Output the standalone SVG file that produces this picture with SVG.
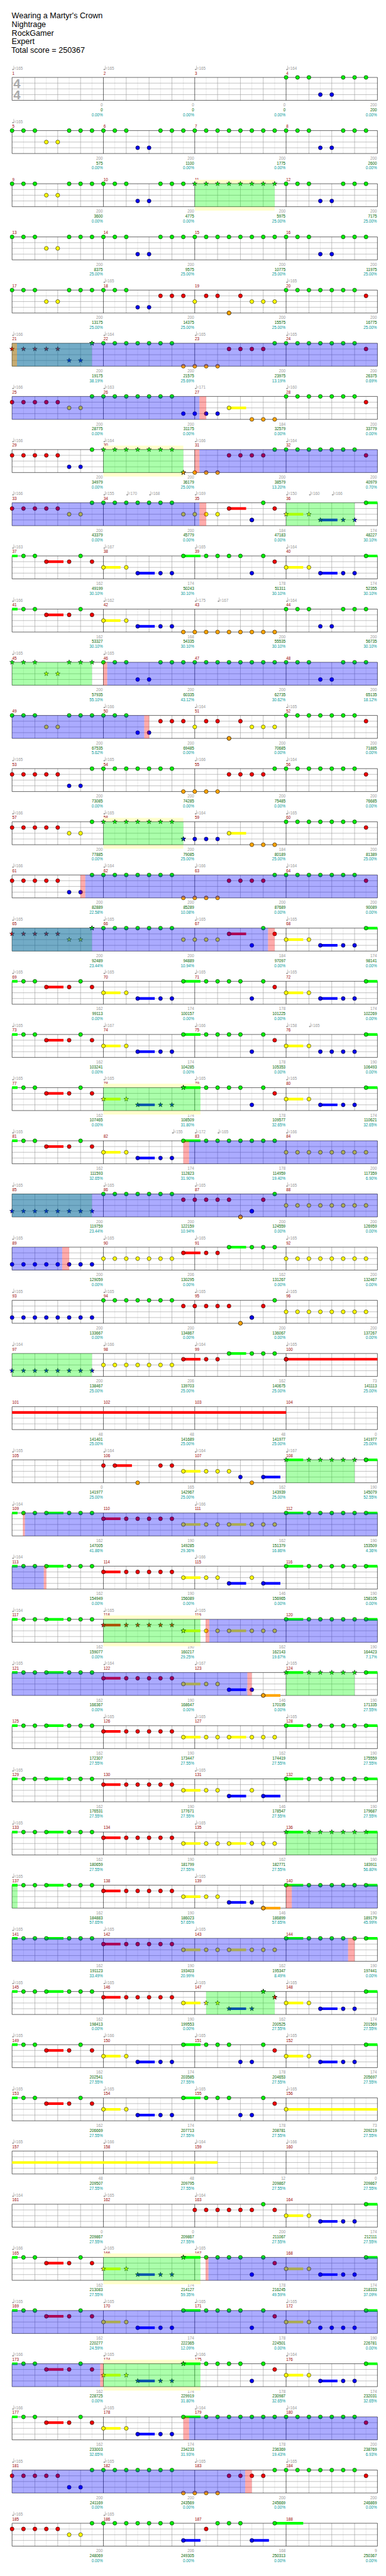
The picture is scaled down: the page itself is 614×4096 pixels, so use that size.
<svg xmlns="http://www.w3.org/2000/svg" width="614" height="4096" viewBox="0 0 614 4096">
<defs>
<style>
text{font-family:"Liberation Sans",Arial,sans-serif;font-size:10.5px}
.hd{font-size:21px;fill:#000}
.ts{font-size:34px;font-weight:bold;fill:#aaa}
.tp{fill:#999}
.mn{fill:#900}
.s1{fill:#999;text-anchor:end}
.s2{fill:#060;text-anchor:end}
.s3{fill:#099;text-anchor:end}
.l1,.l2,.l3{fill:none;vector-effect:non-scaling-stroke;stroke-width:.6}
.l1{stroke:#ddd}.l2{stroke:#999}.l3{stroke:#000}
.G,.R,.Y,.B,.O,.GS,.RS,.YS,.BS,.OS{fill:none;stroke:none}
.G{marker:url(#mG)}.R{marker:url(#mR)}.Y{marker:url(#mY)}.B{marker:url(#mB)}.O{marker:url(#mO)}
.GS{marker:url(#xG)}.RS{marker:url(#xR)}.YS{marker:url(#xY)}.BS{marker:url(#xB)}.OS{marker:url(#xO)}
.zG,.zR,.zY,.zB,.zO{fill:none;stroke-width:.46}
.zG{stroke:#0f0}.zR{stroke:#f00}.zY{stroke:#ff0}.zB{stroke:#00f}.zO{stroke:#ffa500}
.og{fill:#0f0;fill-opacity:.33}.ob{fill:#00f;fill-opacity:.33}.op{fill:#f00;fill-opacity:.33}.oy{fill:#ffc}
.nt{stroke:#000;stroke-width:.9}
</style>
<circle id="c" r="5.2" class="nt"/>
<path id="st" class="nt" d="M0,-6.5L1.53,-2.1 6.18,-2.01 2.47,0.8 3.82,5.26 0,2.6 -3.82,5.26 -2.47,0.8 -6.18,-2.01 -1.53,-2.1Z"/>
<marker id="mG" markerUnits="userSpaceOnUse" markerWidth="1" markerHeight="1" refX=".5" refY=".5" overflow="visible"><use href="#c" fill="#0e0" transform="translate(.5,.5) scale(.033014,.065789)"/></marker>
<marker id="mR" markerUnits="userSpaceOnUse" markerWidth="1" markerHeight="1" refX=".5" refY=".5" overflow="visible"><use href="#c" fill="#e00" transform="translate(.5,.5) scale(.033014,.065789)"/></marker>
<marker id="mY" markerUnits="userSpaceOnUse" markerWidth="1" markerHeight="1" refX=".5" refY=".5" overflow="visible"><use href="#c" fill="#ff0" transform="translate(.5,.5) scale(.033014,.065789)"/></marker>
<marker id="mB" markerUnits="userSpaceOnUse" markerWidth="1" markerHeight="1" refX=".5" refY=".5" overflow="visible"><use href="#c" fill="#00e" transform="translate(.5,.5) scale(.033014,.065789)"/></marker>
<marker id="mO" markerUnits="userSpaceOnUse" markerWidth="1" markerHeight="1" refX=".5" refY=".5" overflow="visible"><use href="#c" fill="#ffa500" transform="translate(.5,.5) scale(.033014,.065789)"/></marker>
<marker id="xG" markerUnits="userSpaceOnUse" markerWidth="1" markerHeight="1" refX=".5" refY=".5" overflow="visible"><use href="#st" fill="#0e0" transform="translate(.5,.5) scale(.033014,.065789)"/></marker>
<marker id="xR" markerUnits="userSpaceOnUse" markerWidth="1" markerHeight="1" refX=".5" refY=".5" overflow="visible"><use href="#st" fill="#e00" transform="translate(.5,.5) scale(.033014,.065789)"/></marker>
<marker id="xY" markerUnits="userSpaceOnUse" markerWidth="1" markerHeight="1" refX=".5" refY=".5" overflow="visible"><use href="#st" fill="#ff0" transform="translate(.5,.5) scale(.033014,.065789)"/></marker>
<marker id="xB" markerUnits="userSpaceOnUse" markerWidth="1" markerHeight="1" refX=".5" refY=".5" overflow="visible"><use href="#st" fill="#00e" transform="translate(.5,.5) scale(.033014,.065789)"/></marker>
<marker id="xO" markerUnits="userSpaceOnUse" markerWidth="1" markerHeight="1" refX=".5" refY=".5" overflow="visible"><use href="#st" fill="#ffa500" transform="translate(.5,.5) scale(.033014,.065789)"/></marker>
<g id="q" fill="#999"><ellipse cx="2.5" cy="-21" rx="2.4" ry="1.7"/><rect x="4.1" y="-31" width="0.9" height="10"/></g>
<g id="q4"><use href="#q" x="32"/><use href="#q" x="274.3"/><use href="#q" x="516.6"/><use href="#q" x="758.9"/></g>
<g id="grid">
<rect width="32" height="4" fill="#fff"/>
<path class="l1" d="M1 0V4M3 0V4M5 0V4M7 0V4M9 0V4M11 0V4M13 0V4M15 0V4M17 0V4M19 0V4M21 0V4M23 0V4M25 0V4M27 0V4M29 0V4M31 0V4"/>
<path class="l2" d="M2 0V4M4 0V4M6 0V4M10 0V4M12 0V4M14 0V4M18 0V4M20 0V4M22 0V4M26 0V4M28 0V4M30 0V4M0 1H32M0 2H32M0 3H32"/>
<path class="l3" d="M8 0V4M16 0V4M24 0V4"/>
<rect class="l3" width="32" height="4"/>
</g>
<g id="nA"><path class="G" d="M0 0H1H2H5H6H7H8H9H10H13H14H15H16H17H18H19H20H21H22H23H24H25H26H29H30H31"/><path class="Y" d="M3 2H4"/><path class="B" d="M11 3H12H27H28"/></g>
<g id="nE"><path class="G" d="M0 0H1H2H5H6H7H8H9H10H24H25H26H27H28H29H30"/><path class="R" d="M13 1H14H15H17H18H20H31"/><path class="Y" d="M3 2H4H16H21H22H23"/><path class="B" d="M11 3H12"/><path class="O" d="M19 4h0"/></g>
<g id="nD"><path class="R" d="M0 1H1H2H3H4H19H20H21H22H31"/><path class="B" d="M5 3H6"/><path class="G" d="M7 0H8H9H10H11H12H13H14H23H24H25H26H27H28H29H30"/><path class="O" d="M15 4H16H17H18"/></g>
<g id="zH"><path class="zG" d="M0 0H.48M15 0H16.5M31 0H32"/><path class="zR" d="M3 1H4.5"/><path class="zY" d="M8 2H9.5M24 2H25.5"/></g>
<g id="nH"><use href="#zH"/><path class="zB" d="M11 3H12.5M27 3H28.5"/><path class="G" d="M1 0H2H6H15H17H18H19H20H22H31"/><path class="R" d="M3 1H5H7H23"/><path class="Y" d="M8 2H10H24H26"/><path class="B" d="M11 3H13H14H21H27H29H30"/></g>
<g id="nH2"><use href="#zH"/><path class="zB" d="M11 3H12.5"/><path class="G" d="M1 0H2H6H15H17H18H19H20H22H31"/><path class="R" d="M3 1H5H7H23"/><path class="Y" d="M8 2H10H24H26"/><path class="B" d="M11 3H13H14H21H27H28H29H30"/></g>
<g id="nHs"><use href="#zH"/><path class="zB" d="M11 3H12.5M27 3H28.5"/><path class="G" d="M1 0H2H6H17H18H19H20H22H31"/><path class="GS" d="M15 0h0"/><path class="R" d="M3 1H5H7H23"/><path class="YS" d="M8 2H10"/><path class="Y" d="M24 2H26"/><path class="BS" d="M11 3H13H14"/><path class="B" d="M21 3H27H29H30"/></g>
<g id="zK"><path class="zG" d="M0 0H.48M3 0H4.5M24 0H25.5M31 0H32"/><path class="zR" d="M8 1H9.5"/></g>
<g id="nK1"><use href="#zK"/><path class="zY" d="M15 2H16.5M19 2H20.5"/><path class="G" d="M1 0H2H3H5H6H7H24H26H27H28H29H30H31"/><path class="R" d="M8 1H10H11H12H13H14"/><path class="Y" d="M15 2H17H18H19H21H22H23"/></g>
<g id="nK2"><use href="#zK"/><path class="zY" d="M15 2H16.5"/><path class="zB" d="M19 3H20.5M22 3H23.5"/><path class="G" d="M1 0H2H3H5H6H7H24H26H27H28H29H30H31"/><path class="R" d="M8 1H10H11H12H13H14"/><path class="Y" d="M15 2H17H18H21"/><path class="B" d="M19 3H22"/></g>
<g id="nF"><path class="G" d="M8 0H9H10H11H12H13H14H23"/><path class="R" d="M15 1H16H17H18H19H22"/><path class="O" d="M20 4h0"/><path class="B" d="M21 3h0"/><path class="Y" d="M24 2H25H26H27H28H29H30H31"/></g>
<g id="nI"><path class="zR" d="M15 1H16.5"/><path class="zG" d="M19 0H20.5"/><path class="Y" d="M8 2H9H10H11H12H13H14"/><path class="R" d="M15 1H17H18"/><path class="G" d="M19 0H21H22H23"/></g>
</defs>
<rect width="614" height="4096" fill="#fff"/>
<g transform="scale(0.5996)">
<g id="header">
<text class="hd" x="31" y="49">Wearing a Martyr's Crown</text>
<text class="hd" x="31" y="72">Nightrage</text>
<text class="hd" x="31" y="95">RockGamer</text>
<text class="hd" x="31" y="117.5">Expert</text>
<text class="hd" x="30" y="140.5">Total score = 250367</text>
</g>

<g id="r1" transform="translate(0,205.3)">
<use href="#q4"/><text class="tp" y="-20"><tspan x="37">=165</tspan><tspan x="279.3">=165</tspan><tspan x="521.6">=165</tspan><tspan x="763.9">=164</tspan></text>
<text class="mn" y="-7.6"><tspan x="32.5">1</tspan><tspan x="274.8">2</tspan><tspan x="517.1">3</tspan><tspan x="759.4">4</tspan></text>
<text class="s1" y="77"><tspan x="272.8">0</tspan><tspan x="515.1">0</tspan><tspan x="757.4">0</tspan><tspan x="999.8">200</tspan></text>
<text class="s2" y="90"><tspan x="272.8">0</tspan><tspan x="515.1">0</tspan><tspan x="757.4">0</tspan><tspan x="999.8">200</tspan></text>
<text class="s3" y="103"><tspan x="272.8">0.00%</tspan><tspan x="515.1">0.00%</tspan><tspan x="757.4">0.00%</tspan><tspan x="999.8">0.00%</tspan></text>
<g transform="translate(32,0) scale(30.29,15.2)"><use href="#grid"/><path class="G" d="M24 0H25H26H29H30H31"/><path class="B" d="M27 3H28"/></g>
<text class="ts" x="35.5" y="28">4</text><text class="ts" x="35.5" y="58">4</text>
</g>

<g id="r2" transform="translate(0,346.3)">
<use href="#q" x="32"/><text class="tp" y="-20"><tspan x="37">=165</tspan></text>
<text class="mn" y="-7.6"><tspan x="32.5">5</tspan><tspan x="274.8">6</tspan><tspan x="517.1">7</tspan><tspan x="759.4">8</tspan></text>
<text class="s1" y="77"><tspan x="272.8">200</tspan><tspan x="515.1">200</tspan><tspan x="757.4">200</tspan><tspan x="999.8">200</tspan></text>
<text class="s2" y="90"><tspan x="272.8">575</tspan><tspan x="515.1">1100</tspan><tspan x="757.4">1775</tspan><tspan x="999.8">2600</tspan></text>
<text class="s3" y="103"><tspan x="272.8">0.00%</tspan><tspan x="515.1">0.00%</tspan><tspan x="757.4">0.00%</tspan><tspan x="999.8">0.00%</tspan></text>
<g transform="translate(32,0) scale(30.29,15.2)"><use href="#grid"/><use href="#nA"/></g>
</g>

<g id="r3" transform="translate(0,487.3)">
<text class="mn" y="-7.6"><tspan x="32.5">9</tspan><tspan x="274.8">10</tspan><tspan x="517.1">11</tspan><tspan x="759.4">12</tspan></text>
<text class="s1" y="77"><tspan x="272.8">200</tspan><tspan x="515.1">200</tspan><tspan x="757.4">200</tspan><tspan x="999.8">200</tspan></text>
<text class="s2" y="90"><tspan x="272.8">3600</tspan><tspan x="515.1">4775</tspan><tspan x="757.4">5975</tspan><tspan x="999.8">7175</tspan></text>
<text class="s3" y="103"><tspan x="272.8">0.00%</tspan><tspan x="515.1">0.00%</tspan><tspan x="757.4">25.00%</tspan><tspan x="999.8">25.00%</tspan></text>
<g transform="translate(32,0) scale(30.29,15.2)"><rect class="oy" x="16" y="-.69" width="7" height="5.38"/><use href="#grid"/><path class="G" d="M0 0H1H2H5H6H7H8H9H10H13H14H15H24H25H26H29H30H31"/><path class="GS" d="M16 0H17H18H19H20H21H22H23"/><path class="Y" d="M3 2H4"/><path class="B" d="M11 3H12H27H28"/><rect class="og" x="16" width="7" height="4"/></g>
</g>

<g id="r4" transform="translate(0,628.3)">
<text class="mn" y="-7.6"><tspan x="32.5">13</tspan><tspan x="274.8">14</tspan><tspan x="517.1">15</tspan><tspan x="759.4">16</tspan></text>
<text class="s1" y="77"><tspan x="272.8">200</tspan><tspan x="515.1">200</tspan><tspan x="757.4">200</tspan><tspan x="999.8">200</tspan></text>
<text class="s2" y="90"><tspan x="272.8">8375</tspan><tspan x="515.1">9575</tspan><tspan x="757.4">10775</tspan><tspan x="999.8">11975</tspan></text>
<text class="s3" y="103"><tspan x="272.8">25.00%</tspan><tspan x="515.1">25.00%</tspan><tspan x="757.4">25.00%</tspan><tspan x="999.8">25.00%</tspan></text>
<g transform="translate(32,0) scale(30.29,15.2)"><use href="#grid"/><use href="#nA"/></g>
</g>

<g id="r5" transform="translate(0,769.3)">
<use href="#q" x="274.3"/><use href="#q" x="758.9"/><text class="tp" y="-20"><tspan x="279.3">=165</tspan><tspan x="763.9">=165</tspan></text>
<text class="mn" y="-7.6"><tspan x="32.5">17</tspan><tspan x="274.8">18</tspan><tspan x="517.1">19</tspan><tspan x="759.4">20</tspan></text>
<text class="s1" y="77"><tspan x="272.8">200</tspan><tspan x="515.1">200</tspan><tspan x="757.4">200</tspan><tspan x="999.8">200</tspan></text>
<text class="s2" y="90"><tspan x="272.8">13175</tspan><tspan x="515.1">14375</tspan><tspan x="757.4">15575</tspan><tspan x="999.8">16775</tspan></text>
<text class="s3" y="103"><tspan x="272.8">25.00%</tspan><tspan x="515.1">25.00%</tspan><tspan x="757.4">25.00%</tspan><tspan x="999.8">25.00%</tspan></text>
<g transform="translate(32,0) scale(30.29,15.2)"><use href="#grid"/><use href="#nE"/></g>
</g>

<g id="r6" transform="translate(0,910.3)">
<use href="#q4"/><text class="tp" y="-20"><tspan x="37">=166</tspan><tspan x="279.3">=164</tspan><tspan x="521.6">=165</tspan><tspan x="763.9">=165</tspan></text>
<text class="mn" y="-7.6"><tspan x="32.5">21</tspan><tspan x="274.8">22</tspan><tspan x="517.1">23</tspan><tspan x="759.4">24</tspan></text>
<text class="s1" y="77"><tspan x="272.8">200</tspan><tspan x="515.1">200</tspan><tspan x="757.4">200</tspan><tspan x="999.8">200</tspan></text>
<text class="s2" y="90"><tspan x="272.8">19175</tspan><tspan x="515.1">21575</tspan><tspan x="757.4">23975</tspan><tspan x="999.8">26375</tspan></text>
<text class="s3" y="103"><tspan x="272.8">38.19%</tspan><tspan x="515.1">25.69%</tspan><tspan x="757.4">13.19%</tspan><tspan x="999.8">0.69%</tspan></text>
<g transform="translate(32,0) scale(30.29,15.2)"><use href="#grid"/><path class="RS" d="M0 1H1H2H3H4"/><path class="BS" d="M5 3H6"/><path class="GS" d="M7 0h0"/><path class="G" d="M8 0H9H10H11H12H13H14H23H24H25H26H27H28H29H30"/><path class="R" d="M19 1H20H21H22H31"/><path class="O" d="M15 4H16H17H18"/><rect class="og" width="7" height="4"/><rect class="ob" x=".43" width="31.57" height="4"/><rect class="op" width=".43" height="4"/></g>
</g>

<g id="r7" transform="translate(0,1051.3)">
<use href="#q4"/><text class="tp" y="-20"><tspan x="37">=166</tspan><tspan x="279.3">=163</tspan><tspan x="521.6">=171</tspan><tspan x="763.9">=160</tspan></text>
<text class="mn" y="-7.6"><tspan x="32.5">25</tspan><tspan x="274.8">26</tspan><tspan x="517.1">27</tspan><tspan x="759.4">28</tspan></text>
<text class="s1" y="77"><tspan x="272.8">200</tspan><tspan x="515.1">200</tspan><tspan x="757.4">184</tspan><tspan x="999.8">200</tspan></text>
<text class="s2" y="90"><tspan x="272.8">28775</tspan><tspan x="515.1">31175</tspan><tspan x="757.4">32579</tspan><tspan x="999.8">33779</tspan></text>
<text class="s3" y="103"><tspan x="272.8">0.00%</tspan><tspan x="515.1">0.00%</tspan><tspan x="757.4">0.00%</tspan><tspan x="999.8">0.00%</tspan></text>
<g transform="translate(32,0) scale(30.29,15.2)"><use href="#grid"/><path class="zY" d="M19 2H20.5"/><path class="R" d="M0 1H1H2H3H4H31"/><path class="Y" d="M5 2H6H19"/><path class="G" d="M7 0H8H9H10H11H12H13H14H24H25H26H27H28H29H30"/><path class="B" d="M15 3H16H17H18"/><path class="O" d="M21 4H22H23"/><rect class="ob" width="16.41" height="4"/><rect class="op" x="16.41" width=".59" height="4"/></g>
</g>

<g id="r8" transform="translate(0,1192.3)">
<use href="#q4"/><text class="tp" y="-20"><tspan x="37">=166</tspan><tspan x="279.3">=164</tspan><tspan x="521.6">=166</tspan><tspan x="763.9">=164</tspan></text>
<text class="mn" y="-7.6"><tspan x="32.5">29</tspan><tspan x="274.8">30</tspan><tspan x="517.1">31</tspan><tspan x="759.4">32</tspan></text>
<text class="s1" y="77"><tspan x="272.8">200</tspan><tspan x="515.1">200</tspan><tspan x="757.4">200</tspan><tspan x="999.8">200</tspan></text>
<text class="s2" y="90"><tspan x="272.8">34979</tspan><tspan x="515.1">36179</tspan><tspan x="757.4">38579</tspan><tspan x="999.8">40979</tspan></text>
<text class="s3" y="103"><tspan x="272.8">0.00%</tspan><tspan x="515.1">25.00%</tspan><tspan x="757.4">13.20%</tspan><tspan x="999.8">0.70%</tspan></text>
<g transform="translate(32,0) scale(30.29,15.2)"><rect class="oy" x="8" y="-.69" width="7" height="5.38"/><use href="#grid"/><path class="R" d="M0 1H1H2H3H4H19H20H21H22H31"/><path class="B" d="M5 3H6"/><path class="G" d="M7 0H23H24H25H26H27H28H29H30"/><path class="GS" d="M8 0H9H10H11H12H13H14"/><path class="OS" d="M15 4h0"/><path class="O" d="M16 4H17H18"/><rect class="og" x="8" width="7" height="4"/><rect class="ob" x="16.41" width="15.59" height="4"/><rect class="op" x="16" width=".41" height="4"/></g>
</g>

<g id="r9" transform="translate(0,1333.3)">
<use href="#q" x="32"/><use href="#q" x="274.3"/><use href="#q" x="334.9"/><use href="#q" x="395.5"/><use href="#q" x="516.6"/><use href="#q" x="758.9"/><use href="#q" x="819.5"/><use href="#q" x="880.1"/>
<text class="tp" y="-20"><tspan x="37">=166</tspan><tspan x="279.3">=155</tspan><tspan x="339.9">=170</tspan><tspan x="400.5">=168</tspan><tspan x="521.6">=169</tspan><tspan x="763.9">=150</tspan><tspan x="824.5">=160</tspan><tspan x="885.1">=166</tspan></text>
<text class="mn" y="-7.6"><tspan x="32.5">33</tspan><tspan x="274.8">34</tspan><tspan x="517.1">35</tspan><tspan x="759.4">36</tspan></text>
<text class="s1" y="77"><tspan x="272.8">200</tspan><tspan x="515.1">200</tspan><tspan x="757.4">184</tspan><tspan x="999.8">174</tspan></text>
<text class="s2" y="90"><tspan x="272.8">43379</tspan><tspan x="515.1">45779</tspan><tspan x="757.4">47183</tspan><tspan x="999.8">48227</tspan></text>
<text class="s3" y="103"><tspan x="272.8">0.00%</tspan><tspan x="515.1">0.00%</tspan><tspan x="757.4">0.00%</tspan><tspan x="999.8">30.10%</tspan></text>
<g transform="translate(32,0) scale(30.29,15.2)"><use href="#grid"/><path class="zR" d="M19 1H20.5"/><path class="zY" d="M24 2H25.5"/><path class="zB" d="M27 3H28.5"/><path class="zG" d="M31 0H32"/><path class="R" d="M0 1H1H2H3H4H19H23"/><path class="Y" d="M5 2H6H15H16H17H18"/><path class="G" d="M7 0H8H9H10H11H12H13H14H22H31"/><path class="B" d="M21 3h0"/><path class="YS" d="M24 2H26"/><path class="BS" d="M27 3H29H30"/><rect class="og" x="24" width="6" height="4"/><rect class="ob" width="16.41" height="4"/><rect class="op" x="16.41" width=".59" height="4"/></g>
</g>

<g id="r10" transform="translate(0,1474.3)">
<use href="#q4"/><text class="tp" y="-20"><tspan x="37">=163</tspan><tspan x="279.3">=167</tspan><tspan x="521.6">=165</tspan><tspan x="763.9">=164</tspan></text>
<text class="mn" y="-7.6"><tspan x="32.5">37</tspan><tspan x="274.8">38</tspan><tspan x="517.1">39</tspan><tspan x="759.4">40</tspan></text>
<text class="s1" y="77"><tspan x="272.8">162</tspan><tspan x="515.1">174</tspan><tspan x="757.4">178</tspan><tspan x="999.8">174</tspan></text>
<text class="s2" y="90"><tspan x="272.8">49199</tspan><tspan x="515.1">50243</tspan><tspan x="757.4">51311</tspan><tspan x="999.8">52355</tspan></text>
<text class="s3" y="103"><tspan x="272.8">30.10%</tspan><tspan x="515.1">30.10%</tspan><tspan x="757.4">30.10%</tspan><tspan x="999.8">30.10%</tspan></text>
<g transform="translate(32,0) scale(30.29,15.2)"><use href="#grid"/><use href="#nH"/></g>
</g>

<g id="r11" transform="translate(0,1615.3)">
<use href="#q" x="32"/><use href="#q" x="274.3"/><use href="#q" x="516.6"/><use href="#q" x="577.2"/><use href="#q" x="758.9"/>
<text class="tp" y="-20"><tspan x="37">=166</tspan><tspan x="279.3">=162</tspan><tspan x="521.6">=175</tspan><tspan x="582.2">=167</tspan><tspan x="763.9">=164</tspan></text>
<text class="mn" y="-7.6"><tspan x="32.5">41</tspan><tspan x="274.8">42</tspan><tspan x="517.1">43</tspan><tspan x="759.4">44</tspan></text>
<text class="s1" y="77"><tspan x="272.8">162</tspan><tspan x="515.1">168</tspan><tspan x="757.4">200</tspan><tspan x="999.8">200</tspan></text>
<text class="s2" y="90"><tspan x="272.8">53327</tspan><tspan x="515.1">54335</tspan><tspan x="757.4">55535</tspan><tspan x="999.8">56735</tspan></text>
<text class="s3" y="103"><tspan x="272.8">30.10%</tspan><tspan x="515.1">30.10%</tspan><tspan x="757.4">30.10%</tspan><tspan x="999.8">30.10%</tspan></text>
<g transform="translate(32,0) scale(30.29,15.2)"><use href="#grid"/><path class="zG" d="M0 0H.48"/><path class="zR" d="M3 1H4.5"/><path class="zY" d="M8 2H9.5"/><path class="zB" d="M11 3H12.5"/><path class="G" d="M1 0H2H6H24H25H26H29H30H31"/><path class="R" d="M3 1H5H7"/><path class="Y" d="M8 2H10"/><path class="B" d="M11 3H13H14H27H28"/><path class="O" d="M15 4H16H17H18H19H20H21H22H23"/></g>
</g>

<g id="r12" transform="translate(0,1756.3)">
<use href="#q" x="32"/><use href="#q" x="274.3"/><text class="tp" y="-20"><tspan x="37">=165</tspan><tspan x="279.3">=165</tspan></text>
<text class="mn" y="-7.6"><tspan x="32.5">45</tspan><tspan x="274.8">46</tspan><tspan x="517.1">47</tspan><tspan x="759.4">48</tspan></text>
<text class="s1" y="77"><tspan x="272.8">200</tspan><tspan x="515.1">200</tspan><tspan x="757.4">200</tspan><tspan x="999.8">200</tspan></text>
<text class="s2" y="90"><tspan x="272.8">57935</tspan><tspan x="515.1">60335</tspan><tspan x="757.4">62735</tspan><tspan x="999.8">65135</tspan></text>
<text class="s3" y="103"><tspan x="272.8">55.10%</tspan><tspan x="515.1">43.12%</tspan><tspan x="757.4">30.62%</tspan><tspan x="999.8">18.12%</tspan></text>
<g transform="translate(32,0) scale(30.29,15.2)"><use href="#grid"/><path class="GS" d="M0 0H1H2H5H6H7"/><path class="YS" d="M3 2H4"/><path class="G" d="M8 0H9H10H13H14H15H16H17H18H19H20H21H22H23H24H25H26H29H30H31"/><path class="B" d="M11 3H12H27H28"/><rect class="og" width="7" height="4"/><rect class="ob" x="8.33" width="23.67" height="4"/><rect class="op" x="8" width=".33" height="4"/></g>
</g>

<g id="r13" transform="translate(0,1897.3)">
<use href="#q" x="274.3"/><use href="#q" x="516.6"/><use href="#q" x="758.9"/><text class="tp" y="-20"><tspan x="279.3">=166</tspan><tspan x="521.6">=164</tspan><tspan x="763.9">=165</tspan></text>
<text class="mn" y="-7.6"><tspan x="32.5">49</tspan><tspan x="274.8">50</tspan><tspan x="517.1">51</tspan><tspan x="759.4">52</tspan></text>
<text class="s1" y="77"><tspan x="272.8">200</tspan><tspan x="515.1">200</tspan><tspan x="757.4">200</tspan><tspan x="999.8">200</tspan></text>
<text class="s2" y="90"><tspan x="272.8">67535</tspan><tspan x="515.1">69485</tspan><tspan x="757.4">70685</tspan><tspan x="999.8">71885</tspan></text>
<text class="s3" y="103"><tspan x="272.8">5.62%</tspan><tspan x="515.1">0.00%</tspan><tspan x="757.4">0.00%</tspan><tspan x="999.8">0.00%</tspan></text>
<g transform="translate(32,0) scale(30.29,15.2)"><use href="#grid"/><use href="#nE"/><rect class="ob" width="11.58" height="4"/><rect class="op" x="11.58" width=".42" height="4"/></g>
</g>

<g id="r14" transform="translate(0,2038.3)">
<use href="#q4"/><text class="tp" y="-20"><tspan x="37">=165</tspan><tspan x="279.3">=165</tspan><tspan x="521.6">=166</tspan><tspan x="763.9">=164</tspan></text>
<text class="mn" y="-7.6"><tspan x="32.5">53</tspan><tspan x="274.8">54</tspan><tspan x="517.1">55</tspan><tspan x="759.4">56</tspan></text>
<text class="s1" y="77"><tspan x="272.8">200</tspan><tspan x="515.1">200</tspan><tspan x="757.4">200</tspan><tspan x="999.8">200</tspan></text>
<text class="s2" y="90"><tspan x="272.8">73085</tspan><tspan x="515.1">74285</tspan><tspan x="757.4">75485</tspan><tspan x="999.8">76685</tspan></text>
<text class="s3" y="103"><tspan x="272.8">0.00%</tspan><tspan x="515.1">0.00%</tspan><tspan x="757.4">0.00%</tspan><tspan x="999.8">0.00%</tspan></text>
<g transform="translate(32,0) scale(30.29,15.2)"><use href="#grid"/><use href="#nD"/></g>
</g>

<g id="r15" transform="translate(0,2179.3)">
<use href="#q4"/><text class="tp" y="-20"><tspan x="37">=166</tspan><tspan x="279.3">=165</tspan><tspan x="521.6">=164</tspan><tspan x="763.9">=165</tspan></text>
<text class="mn" y="-7.6"><tspan x="32.5">57</tspan><tspan x="274.8">58</tspan><tspan x="517.1">59</tspan><tspan x="759.4">60</tspan></text>
<text class="s1" y="77"><tspan x="272.8">200</tspan><tspan x="515.1">200</tspan><tspan x="757.4">184</tspan><tspan x="999.8">200</tspan></text>
<text class="s2" y="90"><tspan x="272.8">77885</tspan><tspan x="515.1">79085</tspan><tspan x="757.4">80189</tspan><tspan x="999.8">81389</tspan></text>
<text class="s3" y="103"><tspan x="272.8">0.00%</tspan><tspan x="515.1">25.00%</tspan><tspan x="757.4">25.00%</tspan><tspan x="999.8">25.00%</tspan></text>
<g transform="translate(32,0) scale(30.29,15.2)"><rect class="oy" x="8" y="-.69" width="7" height="5.38"/><use href="#grid"/><path class="zY" d="M19 2H20.5"/><path class="R" d="M0 1H1H2H3H4H31"/><path class="Y" d="M5 2H6H19"/><path class="G" d="M7 0H24H25H26H27H28H29H30"/><path class="GS" d="M8 0H9H10H11H12H13H14"/><path class="BS" d="M15 3h0"/><path class="B" d="M16 3H17H18"/><path class="O" d="M21 4H22H23"/><rect class="og" x="8" width="7" height="4"/></g>
</g>

<g id="r16" transform="translate(0,2320.3)">
<use href="#q4"/><text class="tp" y="-20"><tspan x="37">=166</tspan><tspan x="279.3">=164</tspan><tspan x="521.6">=166</tspan><tspan x="763.9">=164</tspan></text>
<text class="mn" y="-7.6"><tspan x="32.5">61</tspan><tspan x="274.8">62</tspan><tspan x="517.1">63</tspan><tspan x="759.4">64</tspan></text>
<text class="s1" y="77"><tspan x="272.8">200</tspan><tspan x="515.1">200</tspan><tspan x="757.4">200</tspan><tspan x="999.8">200</tspan></text>
<text class="s2" y="90"><tspan x="272.8">82889</tspan><tspan x="515.1">85289</tspan><tspan x="757.4">87689</tspan><tspan x="999.8">90089</tspan></text>
<text class="s3" y="103"><tspan x="272.8">22.58%</tspan><tspan x="515.1">10.08%</tspan><tspan x="757.4">0.00%</tspan><tspan x="999.8">0.00%</tspan></text>
<g transform="translate(32,0) scale(30.29,15.2)"><use href="#grid"/><use href="#nD"/><rect class="ob" x="6.41" width="25.59" height="4"/><rect class="op" x="6" width=".41" height="4"/></g>
</g>

<g id="r17" transform="translate(0,2461.3)">
<use href="#q4"/><text class="tp" y="-20"><tspan x="37">=165</tspan><tspan x="279.3">=165</tspan><tspan x="521.6">=165</tspan><tspan x="763.9">=165</tspan></text>
<text class="mn" y="-7.6"><tspan x="32.5">65</tspan><tspan x="274.8">66</tspan><tspan x="517.1">67</tspan><tspan x="759.4">68</tspan></text>
<text class="s1" y="77"><tspan x="272.8">200</tspan><tspan x="515.1">200</tspan><tspan x="757.4">184</tspan><tspan x="999.8">174</tspan></text>
<text class="s2" y="90"><tspan x="272.8">92489</tspan><tspan x="515.1">94889</tspan><tspan x="757.4">97097</tspan><tspan x="999.8">98141</tspan></text>
<text class="s3" y="103"><tspan x="272.8">23.44%</tspan><tspan x="515.1">10.94%</tspan><tspan x="757.4">0.00%</tspan><tspan x="999.8">0.00%</tspan></text>
<g transform="translate(32,0) scale(30.29,15.2)"><use href="#grid"/><path class="zR" d="M19 1H20.5"/><path class="zY" d="M24 2H25.5"/><path class="zB" d="M27 3H28.5"/><path class="zG" d="M31 0H32"/><path class="RS" d="M0 1H1H2H3H4"/><path class="YS" d="M5 2H6"/><path class="GS" d="M7 0h0"/><path class="G" d="M8 0H9H10H11H12H13H14H22H31"/><path class="Y" d="M15 2H16H17H18H24H26"/><path class="R" d="M19 1H23"/><path class="B" d="M21 3H27H29H30"/><rect class="og" width="7" height="4"/><rect class="ob" width="22.42" height="4"/><rect class="op" x="22.42" width=".58" height="4"/></g>
</g>

<g id="r18" transform="translate(0,2602.3)">
<use href="#q4"/><text class="tp" y="-20"><tspan x="37">=165</tspan><tspan x="279.3">=165</tspan><tspan x="521.6">=165</tspan><tspan x="763.9">=165</tspan></text>
<text class="mn" y="-7.6"><tspan x="32.5">69</tspan><tspan x="274.8">70</tspan><tspan x="517.1">71</tspan><tspan x="759.4">72</tspan></text>
<text class="s1" y="77"><tspan x="272.8">162</tspan><tspan x="515.1">174</tspan><tspan x="757.4">178</tspan><tspan x="999.8">174</tspan></text>
<text class="s2" y="90"><tspan x="272.8">99113</tspan><tspan x="515.1">100157</tspan><tspan x="757.4">101225</tspan><tspan x="999.8">102269</tspan></text>
<text class="s3" y="103"><tspan x="272.8">0.00%</tspan><tspan x="515.1">0.00%</tspan><tspan x="757.4">0.00%</tspan><tspan x="999.8">0.00%</tspan></text>
<g transform="translate(32,0) scale(30.29,15.2)"><use href="#grid"/><use href="#nH"/></g>
</g>

<g id="r19" transform="translate(0,2743.3)">
<use href="#q4"/><use href="#q" x="819.5"/><text class="tp" y="-20"><tspan x="37">=165</tspan><tspan x="279.3">=167</tspan><tspan x="521.6">=166</tspan><tspan x="763.9">=158</tspan><tspan x="824.5">=165</tspan></text>
<text class="mn" y="-7.6"><tspan x="32.5">73</tspan><tspan x="274.8">74</tspan><tspan x="517.1">75</tspan><tspan x="759.4">76</tspan></text>
<text class="s1" y="77"><tspan x="272.8">162</tspan><tspan x="515.1">174</tspan><tspan x="757.4">178</tspan><tspan x="999.8">190</tspan></text>
<text class="s2" y="90"><tspan x="272.8">103241</tspan><tspan x="515.1">104285</tspan><tspan x="757.4">105353</tspan><tspan x="999.8">106493</tspan></text>
<text class="s3" y="103"><tspan x="272.8">0.00%</tspan><tspan x="515.1">0.00%</tspan><tspan x="757.4">0.00%</tspan><tspan x="999.8">0.00%</tspan></text>
<g transform="translate(32,0) scale(30.29,15.2)"><use href="#grid"/><use href="#nH2"/></g>
</g>

<g id="r20" transform="translate(0,2884.3)">
<use href="#q4"/><text class="tp" y="-20"><tspan x="37">=165</tspan><tspan x="279.3">=165</tspan><tspan x="521.6">=165</tspan><tspan x="763.9">=165</tspan></text>
<text class="mn" y="-7.6"><tspan x="32.5">77</tspan><tspan x="274.8">78</tspan><tspan x="517.1">79</tspan><tspan x="759.4">80</tspan></text>
<text class="s1" y="77"><tspan x="272.8">162</tspan><tspan x="515.1">174</tspan><tspan x="757.4">178</tspan><tspan x="999.8">174</tspan></text>
<text class="s2" y="90"><tspan x="272.8">107465</tspan><tspan x="515.1">108509</tspan><tspan x="757.4">109577</tspan><tspan x="999.8">110621</tspan></text>
<text class="s3" y="103"><tspan x="272.8">0.00%</tspan><tspan x="515.1">31.80%</tspan><tspan x="757.4">32.65%</tspan><tspan x="999.8">32.65%</tspan></text>
<g transform="translate(32,0) scale(30.29,15.2)"><rect class="oy" x="8" y="-.69" width="8.5" height="5.38"/><use href="#grid"/><use href="#nHs"/><rect class="og" x="8" width="8.5" height="4"/></g>
</g>

<g id="r21" transform="translate(0,3025.3)">
<use href="#q" x="32"/><use href="#q" x="456.1"/><use href="#q" x="516.6"/><use href="#q" x="577.2"/><use href="#q" x="758.9"/>
<text class="tp" y="-20"><tspan x="37">=165</tspan><tspan x="461.1">=155</tspan><tspan x="521.6">=172</tspan><tspan x="582.2">=165</tspan><tspan x="763.9">=166</tspan></text>
<text class="mn" y="-7.6"><tspan x="32.5">81</tspan><tspan x="274.8">82</tspan><tspan x="517.1">83</tspan><tspan x="759.4">84</tspan></text>
<text class="s1" y="77"><tspan x="272.8">162</tspan><tspan x="515.1">174</tspan><tspan x="757.4">178</tspan><tspan x="999.8">200</tspan></text>
<text class="s2" y="90"><tspan x="272.8">111593</tspan><tspan x="515.1">112823</tspan><tspan x="757.4">114959</tspan><tspan x="999.8">117359</tspan></text>
<text class="s3" y="103"><tspan x="272.8">32.65%</tspan><tspan x="515.1">31.90%</tspan><tspan x="757.4">19.40%</tspan><tspan x="999.8">6.90%</tspan></text>
<g transform="translate(32,0) scale(30.29,15.2)"><use href="#grid"/><path class="zG" d="M0 0H.48M15 0H16.5"/><path class="zR" d="M3 1H4.5"/><path class="zY" d="M8 2H9.5"/><path class="zB" d="M11 3H12.5"/><path class="G" d="M1 0H2H6H15H17H18H19H20H21H22H23"/><path class="R" d="M3 1H5H7"/><path class="Y" d="M8 2H10H24H25H26H27H28H29H30H31"/><path class="B" d="M11 3H13H14"/><rect class="ob" x="15.5" width="16.5" height="4"/><rect class="op" x="15" width=".5" height="4"/></g>
</g>

<g id="r22" transform="translate(0,3166.3)">
<use href="#q4"/><text class="tp" y="-20"><tspan x="37">=165</tspan><tspan x="279.3">=165</tspan><tspan x="521.6">=165</tspan><tspan x="763.9">=165</tspan></text>
<text class="mn" y="-7.6"><tspan x="32.5">85</tspan><tspan x="274.8">86</tspan><tspan x="517.1">87</tspan><tspan x="759.4">88</tspan></text>
<text class="s1" y="77"><tspan x="272.8">200</tspan><tspan x="515.1">200</tspan><tspan x="757.4">200</tspan><tspan x="999.8">200</tspan></text>
<text class="s2" y="90"><tspan x="272.8">119759</tspan><tspan x="515.1">122159</tspan><tspan x="757.4">124559</tspan><tspan x="999.8">126959</tspan></text>
<text class="s3" y="103"><tspan x="272.8">23.44%</tspan><tspan x="515.1">10.94%</tspan><tspan x="757.4">0.00%</tspan><tspan x="999.8">0.00%</tspan></text>
<g transform="translate(32,0) scale(30.29,15.2)"><use href="#grid"/><path class="BS" d="M0 3H1H2H3H4H5H6H7"/><use href="#nF"/><rect class="og" width="7" height="4"/><rect class="ob" width="32" height="4"/></g>
</g>

<g id="r23" transform="translate(0,3307.3)">
<use href="#q4"/><text class="tp" y="-20"><tspan x="37">=165</tspan><tspan x="279.3">=165</tspan><tspan x="521.6">=165</tspan><tspan x="763.9">=165</tspan></text>
<text class="mn" y="-7.6"><tspan x="32.5">89</tspan><tspan x="274.8">90</tspan><tspan x="517.1">91</tspan><tspan x="759.4">92</tspan></text>
<text class="s1" y="77"><tspan x="272.8">200</tspan><tspan x="515.1">206</tspan><tspan x="757.4">162</tspan><tspan x="999.8">200</tspan></text>
<text class="s2" y="90"><tspan x="272.8">129059</tspan><tspan x="515.1">130295</tspan><tspan x="757.4">131267</tspan><tspan x="999.8">132467</tspan></text>
<text class="s3" y="103"><tspan x="272.8">0.00%</tspan><tspan x="515.1">0.00%</tspan><tspan x="757.4">0.00%</tspan><tspan x="999.8">0.00%</tspan></text>
<g transform="translate(32,0) scale(30.29,15.2)"><use href="#grid"/><path class="B" d="M0 3H1H2H3H4H5H6H7"/><use href="#nI"/><path class="Y" d="M24 2H25H26H27H28H29H30H31"/><rect class="ob" width="4.39" height="4"/><rect class="op" x="4.39" width=".61" height="4"/></g>
</g>

<g id="r24" transform="translate(0,3448.3)">
<use href="#q4"/><text class="tp" y="-20"><tspan x="37">=165</tspan><tspan x="279.3">=165</tspan><tspan x="521.6">=165</tspan><tspan x="763.9">=165</tspan></text>
<text class="mn" y="-7.6"><tspan x="32.5">93</tspan><tspan x="274.8">94</tspan><tspan x="517.1">95</tspan><tspan x="759.4">96</tspan></text>
<text class="s1" y="77"><tspan x="272.8">200</tspan><tspan x="515.1">200</tspan><tspan x="757.4">200</tspan><tspan x="999.8">200</tspan></text>
<text class="s2" y="90"><tspan x="272.8">133667</tspan><tspan x="515.1">134867</tspan><tspan x="757.4">136067</tspan><tspan x="999.8">137267</tspan></text>
<text class="s3" y="103"><tspan x="272.8">0.00%</tspan><tspan x="515.1">0.00%</tspan><tspan x="757.4">0.00%</tspan><tspan x="999.8">0.00%</tspan></text>
<g transform="translate(32,0) scale(30.29,15.2)"><use href="#grid"/><path class="B" d="M0 3H1H2H3H4H5H6H7"/><use href="#nF"/></g>
</g>

<g id="r25" transform="translate(0,3589.3)">
<use href="#q4"/><text class="tp" y="-20"><tspan x="37">=164</tspan><tspan x="279.3">=166</tspan><tspan x="521.6">=164</tspan><tspan x="763.9">=165</tspan></text>
<text class="mn" y="-7.6"><tspan x="32.5">97</tspan><tspan x="274.8">98</tspan><tspan x="517.1">99</tspan><tspan x="759.4">100</tspan></text>
<text class="s1" y="77"><tspan x="272.8">200</tspan><tspan x="515.1">206</tspan><tspan x="757.4">162</tspan><tspan x="999.8">73</tspan></text>
<text class="s2" y="90"><tspan x="272.8">138467</tspan><tspan x="515.1">139703</tspan><tspan x="757.4">140675</tspan><tspan x="999.8">141113</tspan></text>
<text class="s3" y="103"><tspan x="272.8">25.00%</tspan><tspan x="515.1">25.00%</tspan><tspan x="757.4">25.00%</tspan><tspan x="999.8">25.00%</tspan></text>
<g transform="translate(32,0) scale(30.29,15.2)"><use href="#grid"/><path class="zR" d="M24 1H32"/><path class="BS" d="M0 3H1H2H3H4H5H6H7"/><use href="#nI"/><path class="R" d="M24 1h0"/><rect class="og" width="7" height="4"/></g>
</g>

<g id="r26" transform="translate(0,3730.3)">
<text class="mn" y="-7.6"><tspan x="32.5">101</tspan><tspan x="274.8">102</tspan><tspan x="517.1">103</tspan><tspan x="759.4">104</tspan></text>
<text class="s1" y="77"><tspan x="272.8">48</tspan><tspan x="515.1">48</tspan><tspan x="757.4">48</tspan><tspan x="999.8">0</tspan></text>
<text class="s2" y="90"><tspan x="272.8">141401</tspan><tspan x="515.1">141689</tspan><tspan x="757.4">141977</tspan><tspan x="999.8">141977</tspan></text>
<text class="s3" y="103"><tspan x="272.8">25.00%</tspan><tspan x="515.1">25.00%</tspan><tspan x="757.4">25.00%</tspan><tspan x="999.8">25.00%</tspan></text>
<g transform="translate(32,0) scale(30.29,15.2)"><use href="#grid"/><path class="zR" d="M0 1H24"/></g>
</g>

<g id="r27" transform="translate(0,3871.3)">
<use href="#q4"/><text class="tp" y="-20"><tspan x="37">=165</tspan><tspan x="279.3">=164</tspan><tspan x="521.6">=164</tspan><tspan x="763.9">=167</tspan></text>
<text class="mn" y="-7.6"><tspan x="32.5">105</tspan><tspan x="274.8">106</tspan><tspan x="517.1">107</tspan><tspan x="759.4">108</tspan></text>
<text class="s1" y="77"><tspan x="272.8">0</tspan><tspan x="515.1">165</tspan><tspan x="757.4">162</tspan><tspan x="999.8">190</tspan></text>
<text class="s2" y="90"><tspan x="272.8">141977</tspan><tspan x="515.1">142967</tspan><tspan x="757.4">143939</tspan><tspan x="999.8">145079</tspan></text>
<text class="s3" y="103"><tspan x="272.8">25.00%</tspan><tspan x="515.1">25.00%</tspan><tspan x="757.4">25.00%</tspan><tspan x="999.8">52.55%</tspan></text>
<g transform="translate(32,0) scale(30.29,15.2)"><use href="#grid"/><path class="zR" d="M9 1H10.5"/><path class="zY" d="M15 2H16.5"/><path class="zB" d="M22 3H23.5"/><path class="zG" d="M24 0H25.5M31 0H32"/><path class="R" d="M8 1H9H13H14"/><path class="O" d="M11 4H21"/><path class="Y" d="M15 2H17H18H19"/><path class="B" d="M20 3H22"/><path class="GS" d="M24 0H26H27H28H29H30"/><path class="G" d="M31 0h0"/><rect class="og" x="24" width="6" height="4"/></g>
</g>

<g id="r28" transform="translate(0,4012.3)">
<use href="#q" x="32"/><use href="#q" x="516.6"/><text class="tp" y="-20"><tspan x="37">=164</tspan><tspan x="521.6">=166</tspan></text>
<text class="mn" y="-7.6"><tspan x="32.5">109</tspan><tspan x="274.8">110</tspan><tspan x="517.1">111</tspan><tspan x="759.4">112</tspan></text>
<text class="s1" y="77"><tspan x="272.8">162</tspan><tspan x="515.1">190</tspan><tspan x="757.4">162</tspan><tspan x="999.8">190</tspan></text>
<text class="s2" y="90"><tspan x="272.8">147005</tspan><tspan x="515.1">149285</tspan><tspan x="757.4">151379</tspan><tspan x="999.8">153509</tspan></text>
<text class="s3" y="103"><tspan x="272.8">41.86%</tspan><tspan x="515.1">29.36%</tspan><tspan x="757.4">16.86%</tspan><tspan x="999.8">4.36%</tspan></text>
<g transform="translate(32,0) scale(30.29,15.2)"><use href="#grid"/><use href="#nK1"/><rect class="ob" x="1.12" width="30.88" height="4"/><rect class="op" x=".95" width=".17" height="4"/></g>
</g>

<g id="r29" transform="translate(0,4153.3)">
<use href="#q" x="32"/><use href="#q" x="516.6"/><text class="tp" y="-20"><tspan x="37">=164</tspan><tspan x="521.6">=166</tspan></text>
<text class="mn" y="-7.6"><tspan x="32.5">113</tspan><tspan x="274.8">114</tspan><tspan x="517.1">115</tspan><tspan x="759.4">116</tspan></text>
<text class="s1" y="77"><tspan x="272.8">162</tspan><tspan x="515.1">190</tspan><tspan x="757.4">146</tspan><tspan x="999.8">190</tspan></text>
<text class="s2" y="90"><tspan x="272.8">154949</tspan><tspan x="515.1">156089</tspan><tspan x="757.4">156965</tspan><tspan x="999.8">158105</tspan></text>
<text class="s3" y="103"><tspan x="272.8">0.00%</tspan><tspan x="515.1">0.00%</tspan><tspan x="757.4">0.00%</tspan><tspan x="999.8">0.00%</tspan></text>
<g transform="translate(32,0) scale(30.29,15.2)"><use href="#grid"/><use href="#nK2"/><rect class="ob" width="2.78" height="4"/><rect class="op" x="2.78" width=".22" height="4"/></g>
</g>

<g id="r30" transform="translate(0,4294.3)">
<use href="#q" x="32"/><use href="#q" x="274.3"/><use href="#q" x="516.6"/><text class="tp" y="-20"><tspan x="37">=164</tspan><tspan x="279.3">=165</tspan><tspan x="521.6">=165</tspan></text>
<text class="mn" y="-7.6"><tspan x="32.5">117</tspan><tspan x="274.8">118</tspan><tspan x="517.1">119</tspan><tspan x="759.4">120</tspan></text>
<text class="s1" y="77"><tspan x="272.8">162</tspan><tspan x="515.1">190</tspan><tspan x="757.4">162</tspan><tspan x="999.8">190</tspan></text>
<text class="s2" y="90"><tspan x="272.8">159077</tspan><tspan x="515.1">160217</tspan><tspan x="757.4">162143</tspan><tspan x="999.8">164423</tspan></text>
<text class="s3" y="103"><tspan x="272.8">0.00%</tspan><tspan x="515.1">29.25%</tspan><tspan x="757.4">19.67%</tspan><tspan x="999.8">7.17%</tspan></text>
<g transform="translate(32,0) scale(30.29,15.2)"><rect class="oy" x="8" y="-.69" width="8.5" height="5.38"/><use href="#grid"/><use href="#zK"/><path class="zY" d="M15 2H16.5M19 2H20.5"/><path class="G" d="M1 0H2H3H5H6H7H24H26H27H28H29H30H31"/><path class="RS" d="M8 1H10H11H12H13H14"/><path class="YS" d="M15 2h0"/><path class="Y" d="M17 2H18H19H21H22H23"/><rect class="og" x="8" width="8.5" height="4"/><rect class="ob" x="17.28" width="14.72" height="4"/><rect class="op" x="16.95" width=".33" height="4"/></g>
</g>

<g id="r31" transform="translate(0,4435.3)">
<use href="#q4"/><text class="tp" y="-20"><tspan x="37">=165</tspan><tspan x="279.3">=164</tspan><tspan x="521.6">=167</tspan><tspan x="763.9">=165</tspan></text>
<text class="mn" y="-7.6"><tspan x="32.5">121</tspan><tspan x="274.8">122</tspan><tspan x="517.1">123</tspan><tspan x="759.4">124</tspan></text>
<text class="s1" y="77"><tspan x="272.8">162</tspan><tspan x="515.1">190</tspan><tspan x="757.4">146</tspan><tspan x="999.8">190</tspan></text>
<text class="s2" y="90"><tspan x="272.8">166367</tspan><tspan x="515.1">168647</tspan><tspan x="757.4">170195</tspan><tspan x="999.8">171335</tspan></text>
<text class="s3" y="103"><tspan x="272.8">0.00%</tspan><tspan x="515.1">0.00%</tspan><tspan x="757.4">0.00%</tspan><tspan x="999.8">27.55%</tspan></text>
<g transform="translate(32,0) scale(30.29,15.2)"><use href="#grid"/><use href="#zK"/><path class="zY" d="M15 2H16.5"/><path class="zB" d="M19 3H20.5"/><path class="zO" d="M22 4H23.5"/><path class="G" d="M1 0H2H3H5H6H7H31"/><path class="GS" d="M24 0H26H27H28H29H30"/><path class="R" d="M8 1H10H11H12H13H14"/><path class="Y" d="M15 2H17H18"/><path class="B" d="M19 3H21"/><path class="O" d="M22 4h0"/><rect class="og" x="24" width="6" height="4"/><rect class="ob" width="20.61" height="4"/><rect class="op" x="20.61" width=".39" height="4"/></g>
</g>

<g id="r32" transform="translate(0,4576.3)">
<use href="#q" x="274.3"/><use href="#q" x="516.6"/><use href="#q" x="758.9"/><text class="tp" y="-20"><tspan x="279.3">=165</tspan><tspan x="521.6">=165</tspan><tspan x="763.9">=165</tspan></text>
<text class="mn" y="-7.6"><tspan x="32.5">125</tspan><tspan x="274.8">126</tspan><tspan x="517.1">127</tspan><tspan x="759.4">128</tspan></text>
<text class="s1" y="77"><tspan x="272.8">162</tspan><tspan x="515.1">190</tspan><tspan x="757.4">162</tspan><tspan x="999.8">190</tspan></text>
<text class="s2" y="90"><tspan x="272.8">172307</tspan><tspan x="515.1">173447</tspan><tspan x="757.4">174419</tspan><tspan x="999.8">175559</tspan></text>
<text class="s3" y="103"><tspan x="272.8">27.55%</tspan><tspan x="515.1">27.55%</tspan><tspan x="757.4">27.55%</tspan><tspan x="999.8">27.55%</tspan></text>
<g transform="translate(32,0) scale(30.29,15.2)"><use href="#grid"/><use href="#nK1"/></g>
</g>

<g id="r33" transform="translate(0,4717.3)">
<use href="#q" x="32"/><use href="#q" x="516.6"/><text class="tp" y="-20"><tspan x="37">=165</tspan><tspan x="521.6">=165</tspan></text>
<text class="mn" y="-7.6"><tspan x="32.5">129</tspan><tspan x="274.8">130</tspan><tspan x="517.1">131</tspan><tspan x="759.4">132</tspan></text>
<text class="s1" y="77"><tspan x="272.8">162</tspan><tspan x="515.1">190</tspan><tspan x="757.4">146</tspan><tspan x="999.8">190</tspan></text>
<text class="s2" y="90"><tspan x="272.8">176531</tspan><tspan x="515.1">177671</tspan><tspan x="757.4">178547</tspan><tspan x="999.8">179687</tspan></text>
<text class="s3" y="103"><tspan x="272.8">27.55%</tspan><tspan x="515.1">27.55%</tspan><tspan x="757.4">27.55%</tspan><tspan x="999.8">27.55%</tspan></text>
<g transform="translate(32,0) scale(30.29,15.2)"><use href="#grid"/><use href="#nK2"/></g>
</g>

<g id="r34" transform="translate(0,4858.3)">
<use href="#q" x="32"/><use href="#q" x="516.6"/><text class="tp" y="-20"><tspan x="37">=165</tspan><tspan x="521.6">=165</tspan></text>
<text class="mn" y="-7.6"><tspan x="32.5">133</tspan><tspan x="274.8">134</tspan><tspan x="517.1">135</tspan><tspan x="759.4">136</tspan></text>
<text class="s1" y="77"><tspan x="272.8">162</tspan><tspan x="515.1">190</tspan><tspan x="757.4">162</tspan><tspan x="999.8">190</tspan></text>
<text class="s2" y="90"><tspan x="272.8">180659</tspan><tspan x="515.1">181799</tspan><tspan x="757.4">182771</tspan><tspan x="999.8">183911</tspan></text>
<text class="s3" y="103"><tspan x="272.8">27.55%</tspan><tspan x="515.1">27.55%</tspan><tspan x="757.4">27.55%</tspan><tspan x="999.8">56.80%</tspan></text>
<g transform="translate(32,0) scale(30.29,15.2)"><use href="#grid"/><use href="#zK"/><path class="zY" d="M15 2H16.5M19 2H20.5"/><path class="G" d="M1 0H2H3H5H6H7"/><path class="GS" d="M24 0H26H27H28H29H30H31"/><path class="R" d="M8 1H10H11H12H13H14"/><path class="Y" d="M15 2H17H18H19H21H22H23"/><rect class="og" x="24" width="8" height="4"/></g>
</g>

<g id="r35" transform="translate(0,4999.3)">
<use href="#q" x="32"/><use href="#q" x="516.6"/><text class="tp" y="-20"><tspan x="37">=165</tspan><tspan x="521.6">=165</tspan></text>
<text class="mn" y="-7.6"><tspan x="32.5">137</tspan><tspan x="274.8">138</tspan><tspan x="517.1">139</tspan><tspan x="759.4">140</tspan></text>
<text class="s1" y="77"><tspan x="272.8">162</tspan><tspan x="515.1">190</tspan><tspan x="757.4">146</tspan><tspan x="999.8">190</tspan></text>
<text class="s2" y="90"><tspan x="272.8">184883</tspan><tspan x="515.1">186023</tspan><tspan x="757.4">186899</tspan><tspan x="999.8">189179</tspan></text>
<text class="s3" y="103"><tspan x="272.8">57.65%</tspan><tspan x="515.1">57.65%</tspan><tspan x="757.4">57.65%</tspan><tspan x="999.8">45.99%</tspan></text>
<g transform="translate(32,0) scale(30.29,15.2)"><use href="#grid"/><use href="#zK"/><path class="zY" d="M15 2H16.5"/><path class="zB" d="M19 3H20.5"/><path class="zO" d="M22 4H23.5"/><path class="G" d="M1 0H2H3H5H6H7H24H26H27H28H29H30H31"/><path class="R" d="M8 1H10H11H12H13H14"/><path class="Y" d="M15 2H17H18"/><path class="B" d="M19 3H21"/><path class="O" d="M22 4h0"/><rect class="og" width=".48" height="4"/><rect class="ob" x="24.5" width="7.5" height="4"/><rect class="op" x="24" width=".5" height="4"/></g>
</g>

<g id="r36" transform="translate(0,5140.3)">
<use href="#q" x="32"/><use href="#q" x="274.3"/><use href="#q" x="516.6"/><text class="tp" y="-20"><tspan x="37">=165</tspan><tspan x="279.3">=165</tspan><tspan x="521.6">=165</tspan></text>
<text class="mn" y="-7.6"><tspan x="32.5">141</tspan><tspan x="274.8">142</tspan><tspan x="517.1">143</tspan><tspan x="759.4">144</tspan></text>
<text class="s1" y="77"><tspan x="272.8">162</tspan><tspan x="515.1">190</tspan><tspan x="757.4">162</tspan><tspan x="999.8">190</tspan></text>
<text class="s2" y="90"><tspan x="272.8">191123</tspan><tspan x="515.1">193403</tspan><tspan x="757.4">195347</tspan><tspan x="999.8">197441</tspan></text>
<text class="s3" y="103"><tspan x="272.8">33.49%</tspan><tspan x="515.1">20.99%</tspan><tspan x="757.4">8.49%</tspan><tspan x="999.8">0.00%</tspan></text>
<g transform="translate(32,0) scale(30.29,15.2)"><use href="#grid"/><use href="#nK1"/><rect class="ob" width="29.43" height="4"/><rect class="op" x="29.43" width=".57" height="4"/></g>
</g>

<g id="r37" transform="translate(0,5281.3)">
<use href="#q4"/><text class="tp" y="-20"><tspan x="37">=165</tspan><tspan x="279.3">=165</tspan><tspan x="521.6">=165</tspan><tspan x="763.9">=165</tspan></text>
<text class="mn" y="-7.6"><tspan x="32.5">145</tspan><tspan x="274.8">146</tspan><tspan x="517.1">147</tspan><tspan x="759.4">148</tspan></text>
<text class="s1" y="77"><tspan x="272.8">162</tspan><tspan x="515.1">190</tspan><tspan x="757.4">162</tspan><tspan x="999.8">174</tspan></text>
<text class="s2" y="90"><tspan x="272.8">198413</tspan><tspan x="515.1">199553</tspan><tspan x="757.4">200525</tspan><tspan x="999.8">201569</tspan></text>
<text class="s3" y="103"><tspan x="272.8">0.00%</tspan><tspan x="515.1">0.00%</tspan><tspan x="757.4">27.55%</tspan><tspan x="999.8">27.55%</tspan></text>
<g transform="translate(32,0) scale(30.29,15.2)"><use href="#grid"/><path class="zG" d="M0 0H.48M3 0H4.5M31 0H32"/><path class="zR" d="M8 1H9.5"/><path class="zY" d="M15 2H16.5M24 2H25.5"/><path class="zB" d="M19 3H20.5M27 3H28.5"/><path class="G" d="M1 0H2H3H5H6H7H31"/><path class="GS" d="M22 0h0"/><path class="R" d="M8 1H10H11H12H13H14"/><path class="RS" d="M23 1h0"/><path class="Y" d="M15 2H24H26"/><path class="YS" d="M17 2H18"/><path class="BS" d="M19 3H21"/><path class="B" d="M27 3H29H30"/><rect class="og" x="17" width="6" height="4"/></g>
</g>

<g id="r38" transform="translate(0,5422.3)">
<use href="#q4"/><text class="tp" y="-20"><tspan x="37">=165</tspan><tspan x="279.3">=166</tspan><tspan x="521.6">=165</tspan><tspan x="763.9">=165</tspan></text>
<text class="mn" y="-7.6"><tspan x="32.5">149</tspan><tspan x="274.8">150</tspan><tspan x="517.1">151</tspan><tspan x="759.4">152</tspan></text>
<text class="s1" y="77"><tspan x="272.8">162</tspan><tspan x="515.1">174</tspan><tspan x="757.4">178</tspan><tspan x="999.8">174</tspan></text>
<text class="s2" y="90"><tspan x="272.8">202541</tspan><tspan x="515.1">203585</tspan><tspan x="757.4">204653</tspan><tspan x="999.8">205697</tspan></text>
<text class="s3" y="103"><tspan x="272.8">27.55%</tspan><tspan x="515.1">27.55%</tspan><tspan x="757.4">27.55%</tspan><tspan x="999.8">27.55%</tspan></text>
<g transform="translate(32,0) scale(30.29,15.2)"><use href="#grid"/><use href="#zH"/><path class="zB" d="M11 3H12.5M27 3H28.5"/><path class="G" d="M1 0H2H6H15H17H18H19H22H31"/><path class="R" d="M3 1H5H7H23"/><path class="Y" d="M8 2H10H24H26"/><path class="B" d="M11 3H13H14H20H21H27H29H30"/></g>
</g>

<g id="r39" transform="translate(0,5563.3)">
<use href="#q4"/><text class="tp" y="-20"><tspan x="37">=165</tspan><tspan x="279.3">=165</tspan><tspan x="521.6">=165</tspan><tspan x="763.9">=165</tspan></text>
<text class="mn" y="-7.6"><tspan x="32.5">153</tspan><tspan x="274.8">154</tspan><tspan x="517.1">155</tspan><tspan x="759.4">156</tspan></text>
<text class="s1" y="77"><tspan x="272.8">162</tspan><tspan x="515.1">174</tspan><tspan x="757.4">178</tspan><tspan x="999.8">73</tspan></text>
<text class="s2" y="90"><tspan x="272.8">206669</tspan><tspan x="515.1">207713</tspan><tspan x="757.4">208781</tspan><tspan x="999.8">209219</tspan></text>
<text class="s3" y="103"><tspan x="272.8">27.55%</tspan><tspan x="515.1">27.55%</tspan><tspan x="757.4">27.55%</tspan><tspan x="999.8">27.55%</tspan></text>
<g transform="translate(32,0) scale(30.29,15.2)"><use href="#grid"/><path class="zG" d="M0 0H.48M15 0H16.5"/><path class="zR" d="M3 1H4.5"/><path class="zY" d="M8 2H9.5M24 2H32"/><path class="zB" d="M11 3H12.5"/><path class="G" d="M1 0H2H6H15H17H18H19H22"/><path class="R" d="M3 1H5H7H23"/><path class="Y" d="M8 2H10H24"/><path class="B" d="M11 3H13H14H20H21"/></g>
</g>

<g id="r40" transform="translate(0,5704.3)">
<use href="#q4"/><text class="tp" y="-20"><tspan x="37">=165</tspan><tspan x="279.3">=166</tspan><tspan x="521.6">=164</tspan><tspan x="763.9">=166</tspan></text>
<text class="mn" y="-7.6"><tspan x="32.5">157</tspan><tspan x="274.8">158</tspan><tspan x="517.1">159</tspan><tspan x="759.4">160</tspan></text>
<text class="s1" y="77"><tspan x="272.8">48</tspan><tspan x="515.1">48</tspan><tspan x="757.4">12</tspan><tspan x="999.8">0</tspan></text>
<text class="s2" y="90"><tspan x="272.8">209507</tspan><tspan x="515.1">209795</tspan><tspan x="757.4">209867</tspan><tspan x="999.8">209867</tspan></text>
<text class="s3" y="103"><tspan x="272.8">27.55%</tspan><tspan x="515.1">27.55%</tspan><tspan x="757.4">27.55%</tspan><tspan x="999.8">27.55%</tspan></text>
<g transform="translate(32,0) scale(30.29,15.2)"><use href="#grid"/><path class="zY" d="M0 2H18"/></g>
</g>

<g id="r41" transform="translate(0,5845.3)">
<use href="#q" x="32"/><use href="#q" x="274.3"/><use href="#q" x="516.6"/><text class="tp" y="-20"><tspan x="37">=164</tspan><tspan x="279.3">=165</tspan><tspan x="521.6">=164</tspan></text>
<text class="mn" y="-7.6"><tspan x="32.5">161</tspan><tspan x="274.8">162</tspan><tspan x="517.1">163</tspan><tspan x="759.4">164</tspan></text>
<text class="s1" y="77"><tspan x="272.8">0</tspan><tspan x="515.1">0</tspan><tspan x="757.4">200</tspan><tspan x="999.8">174</tspan></text>
<text class="s2" y="90"><tspan x="272.8">209867</tspan><tspan x="515.1">209867</tspan><tspan x="757.4">211067</tspan><tspan x="999.8">212111</tspan></text>
<text class="s3" y="103"><tspan x="272.8">27.55%</tspan><tspan x="515.1">27.55%</tspan><tspan x="757.4">27.55%</tspan><tspan x="999.8">27.55%</tspan></text>
<g transform="translate(32,0) scale(30.29,15.2)"><use href="#grid"/><path class="zY" d="M24 2H25.5"/><path class="zB" d="M27 3H28.5"/><path class="zG" d="M31 0H32"/><path class="R" d="M16 1H17H18H19H20H21H23"/><path class="G" d="M22 0H31"/><path class="Y" d="M24 2H26"/><path class="B" d="M27 3H29H30"/></g>
</g>

<g id="r42" transform="translate(0,5986.3)">
<use href="#q" x="32"/><use href="#q" x="274.3"/><use href="#q" x="516.6"/><text class="tp" y="-20"><tspan x="37">=166</tspan><tspan x="279.3">=165</tspan><tspan x="521.6">=165</tspan></text>
<text class="mn" y="-7.6"><tspan x="32.5">165</tspan><tspan x="274.8">166</tspan><tspan x="517.1">167</tspan><tspan x="759.4">168</tspan></text>
<text class="s1" y="77"><tspan x="272.8">162</tspan><tspan x="515.1">174</tspan><tspan x="757.4">178</tspan><tspan x="999.8">174</tspan></text>
<text class="s2" y="90"><tspan x="272.8">213083</tspan><tspan x="515.1">214127</tspan><tspan x="757.4">216245</tspan><tspan x="999.8">218333</tspan></text>
<text class="s3" y="103"><tspan x="272.8">27.55%</tspan><tspan x="515.1">59.35%</tspan><tspan x="757.4">49.59%</tspan><tspan x="999.8">37.09%</tspan></text>
<g transform="translate(32,0) scale(30.29,15.2)"><rect class="oy" x="8" y="-.69" width="8.5" height="5.38"/><use href="#grid"/><use href="#nHs"/><rect class="og" x="8" width="8.5" height="4"/><rect class="ob" x="17.2" width="14.8" height="4"/><rect class="op" x="16.95" width=".25" height="4"/></g>
</g>

<g id="r43" transform="translate(0,6127.3)">
<use href="#q4"/><text class="tp" y="-20"><tspan x="37">=165</tspan><tspan x="279.3">=165</tspan><tspan x="521.6">=165</tspan><tspan x="763.9">=165</tspan></text>
<text class="mn" y="-7.6"><tspan x="32.5">169</tspan><tspan x="274.8">170</tspan><tspan x="517.1">171</tspan><tspan x="759.4">172</tspan></text>
<text class="s1" y="77"><tspan x="272.8">162</tspan><tspan x="515.1">174</tspan><tspan x="757.4">178</tspan><tspan x="999.8">190</tspan></text>
<text class="s2" y="90"><tspan x="272.8">220277</tspan><tspan x="515.1">222365</tspan><tspan x="757.4">224501</tspan><tspan x="999.8">226781</tspan></text>
<text class="s3" y="103"><tspan x="272.8">24.59%</tspan><tspan x="515.1">12.09%</tspan><tspan x="757.4">0.00%</tspan><tspan x="999.8">0.00%</tspan></text>
<g transform="translate(32,0) scale(30.29,15.2)"><use href="#grid"/><use href="#nH2"/><rect class="ob" width="32" height="4"/></g>
</g>

<g id="r44" transform="translate(0,6268.3)">
<use href="#q4"/><text class="tp" y="-20"><tspan x="37">=166</tspan><tspan x="279.3">=165</tspan><tspan x="521.6">=166</tspan><tspan x="763.9">=164</tspan></text>
<text class="mn" y="-7.6"><tspan x="32.5">173</tspan><tspan x="274.8">174</tspan><tspan x="517.1">175</tspan><tspan x="759.4">176</tspan></text>
<text class="s1" y="77"><tspan x="272.8">162</tspan><tspan x="515.1">174</tspan><tspan x="757.4">178</tspan><tspan x="999.8">174</tspan></text>
<text class="s2" y="90"><tspan x="272.8">228725</tspan><tspan x="515.1">229919</tspan><tspan x="757.4">230987</tspan><tspan x="999.8">232031</tspan></text>
<text class="s3" y="103"><tspan x="272.8">0.00%</tspan><tspan x="515.1">31.80%</tspan><tspan x="757.4">32.65%</tspan><tspan x="999.8">32.65%</tspan></text>
<g transform="translate(32,0) scale(30.29,15.2)"><rect class="oy" x="8" y="-.69" width="8.5" height="5.38"/><use href="#grid"/><use href="#nHs"/><rect class="og" x="8" width="8.5" height="4"/><rect class="ob" width="7.72" height="4"/><rect class="op" x="7.72" width=".28" height="4"/></g>
</g>

<g id="r45" transform="translate(0,6409.3)">
<use href="#q4"/><text class="tp" y="-20"><tspan x="37">=166</tspan><tspan x="279.3">=165</tspan><tspan x="521.6">=164</tspan><tspan x="763.9">=164</tspan></text>
<text class="mn" y="-7.6"><tspan x="32.5">177</tspan><tspan x="274.8">178</tspan><tspan x="517.1">179</tspan><tspan x="759.4">180</tspan></text>
<text class="s1" y="77"><tspan x="272.8">162</tspan><tspan x="515.1">174</tspan><tspan x="757.4">178</tspan><tspan x="999.8">200</tspan></text>
<text class="s2" y="90"><tspan x="272.8">233003</tspan><tspan x="515.1">234233</tspan><tspan x="757.4">236369</tspan><tspan x="999.8">238769</tspan></text>
<text class="s3" y="103"><tspan x="272.8">32.65%</tspan><tspan x="515.1">31.93%</tspan><tspan x="757.4">19.43%</tspan><tspan x="999.8">6.93%</tspan></text>
<g transform="translate(32,0) scale(30.29,15.2)"><use href="#grid"/><path class="zG" d="M0 0H.48M15 0H16.5"/><path class="zR" d="M3 1H4.5"/><path class="zY" d="M8 2H9.5"/><path class="zB" d="M11 3H12.5"/><path class="G" d="M1 0H2H6H15H17H18H19H20H21H22H23H24H25H26H27H28H29H30"/><path class="R" d="M3 1H5H7H31"/><path class="Y" d="M8 2H10"/><path class="B" d="M11 3H13H14"/><rect class="ob" x="15.5" width="16.5" height="4"/><rect class="op" x="15" width=".5" height="4"/></g>
</g>

<g id="r46" transform="translate(0,6550.3)">
<use href="#q4"/><text class="tp" y="-20"><tspan x="37">=165</tspan><tspan x="279.3">=165</tspan><tspan x="521.6">=165</tspan><tspan x="763.9">=165</tspan></text>
<text class="mn" y="-7.6"><tspan x="32.5">181</tspan><tspan x="274.8">182</tspan><tspan x="517.1">183</tspan><tspan x="759.4">184</tspan></text>
<text class="s1" y="77"><tspan x="272.8">200</tspan><tspan x="515.1">200</tspan><tspan x="757.4">200</tspan><tspan x="999.8">200</tspan></text>
<text class="s2" y="90"><tspan x="272.8">241169</tspan><tspan x="515.1">243569</tspan><tspan x="757.4">245669</tspan><tspan x="999.8">246869</tspan></text>
<text class="s3" y="103"><tspan x="272.8">0.00%</tspan><tspan x="515.1">0.00%</tspan><tspan x="757.4">0.00%</tspan><tspan x="999.8">0.00%</tspan></text>
<g transform="translate(32,0) scale(30.29,15.2)"><use href="#grid"/><use href="#nD"/><rect class="ob" width="20.42" height="4"/><rect class="op" x="20.42" width=".58" height="4"/></g>
</g>

<g id="r47" transform="translate(0,6691.3)">
<use href="#q" x="32"/><use href="#q" x="274.3"/><text class="tp" y="-20"><tspan x="37">=165</tspan><tspan x="279.3">=165</tspan></text>
<text class="mn" y="-7.6"><tspan x="32.5">185</tspan><tspan x="274.8">186</tspan><tspan x="517.1">187</tspan><tspan x="759.4">188</tspan></text>
<text class="s1" y="77"><tspan x="272.8">200</tspan><tspan x="515.1">206</tspan><tspan x="757.4">168</tspan><tspan x="999.8">9</tspan></text>
<text class="s2" y="90"><tspan x="272.8">248069</tspan><tspan x="515.1">249305</tspan><tspan x="757.4">250313</tspan><tspan x="999.8">250367</tspan></text>
<text class="s3" y="103"><tspan x="272.8">0.00%</tspan><tspan x="515.1">0.00%</tspan><tspan x="757.4">0.00%</tspan><tspan x="999.8">0.00%</tspan></text>
<g transform="translate(32,0) scale(30.29,15.2)"><use href="#grid"/><path class="zB" d="M15 3H16.5M21 3H22.5"/><path class="zG" d="M23 0H25.5"/><path class="R" d="M0 1H1H2H3H4H17"/><path class="Y" d="M5 2H6"/><path class="G" d="M7 0H8H9H10H11H12H13H14H18H19H20H23"/><path class="B" d="M15 3H21"/></g>
</g>
</g>
</svg>
